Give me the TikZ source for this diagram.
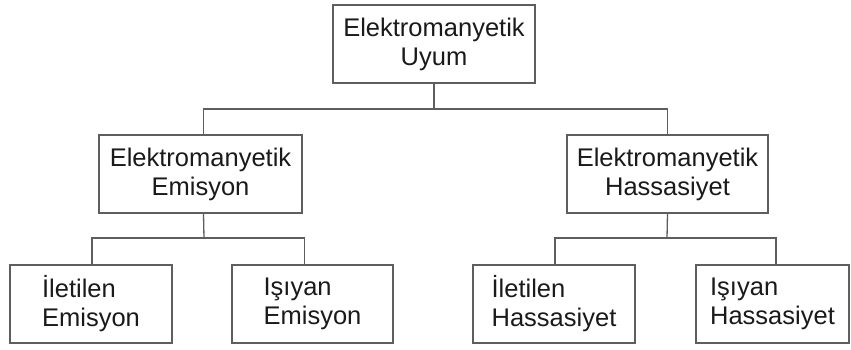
\documentclass[tikz,border=0pt]{standalone}
\usepackage{fontspec}
\setmainfont{Liberation Sans}
\definecolor{linegray}{HTML}{5E5E5E}
\definecolor{txt}{HTML}{1A1A1A}
\begin{document}
\begin{tikzpicture}[x=1pt,y=1pt,
  box/.style={draw=linegray, line width=1.3pt, inner sep=0pt, minimum height=78pt,
    font=\fontsize{25.5}{29}\selectfont, text=txt},
  cbox/.style={box, align=center},
  lbox/.style={box, align=left},
  conn/.style={draw=linegray, line width=1.3pt}]
\useasboundingbox (0,0) rectangle (851,349);
\fill[white] (0,0) rectangle (851,349);
\node[cbox, minimum width=202pt] (top) at (434,305) {Elektromanyetik\\Uyum};
\node[cbox, minimum width=203pt] (em) at (200.5,175) {Elektromanyetik\\Emisyon};
\node[cbox, minimum width=201pt] (ha) at (667.5,175) {Elektromanyetik\\Hassasiyet};
\node[lbox, minimum width=162pt] (b1) at (91,45) {İletilen\\Emisyon};
\node[lbox, minimum width=161pt] (b2) at (312.5,45) {Işıyan\\Emisyon};
\node[lbox, minimum width=162pt] (b3) at (554,45) {İletilen\\Hassasiyet};
\node[lbox, minimum width=153pt] (b4) at (772.5,45) {Işıyan\\Hassasiyet};
\coordinate (bus1) at (434,240);
\coordinate (bus2) at (204,111);
\coordinate (bus3) at (667,111);
\draw[conn] (top.south) -- (bus1);
\draw[conn] ([xshift=3pt]em.north) |- (bus1) -| (ha.north);
\draw[conn] ([xshift=3pt]em.south) -- (bus2);
\draw[conn] (ha.south) -- (bus3);
\draw[conn] ([xshift=1pt]b1.north) |- (bus2) -| ([xshift=-8pt]b2.north);
\draw[conn] ([xshift=1pt]b3.north) |- (bus3) -| ([xshift=3.5pt]b4.north);
\end{tikzpicture}
\end{document}
